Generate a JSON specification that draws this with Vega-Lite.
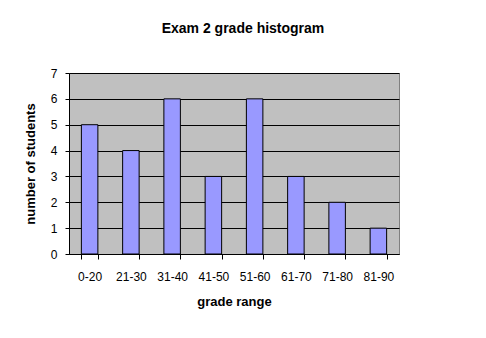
{
  "$schema": "https://vega.github.io/schema/vega-lite/v6.json",
  "width": 330,
  "height": 181,
  "autosize": {"type": "none"},
  "padding": {"left": 69, "top": 73, "right": 87, "bottom": 84},
  "background": "white",
  "title": {
    "text": "Exam 2 grade histogram",
    "font": "Liberation Sans",
    "fontSize": 14,
    "fontWeight": "bold",
    "color": "black",
    "anchor": "middle",
    "offset": 31,
    "dx": 9
  },
  "data": {
    "values": [
      {"range": "0-20", "count": 5},
      {"range": "21-30", "count": 4},
      {"range": "31-40", "count": 6},
      {"range": "41-50", "count": 3},
      {"range": "51-60", "count": 6},
      {"range": "61-70", "count": 3},
      {"range": "71-80", "count": 2},
      {"range": "81-90", "count": 1}
    ]
  },
  "mark": {"type": "bar", "fill": "#9999FF", "stroke": "black", "strokeWidth": 1},
  "encoding": {
    "x": {
      "field": "range",
      "type": "nominal",
      "sort": null,
      "scale": {"paddingInner": 0.6, "paddingOuter": 0.3},
      "axis": {
        "title": "grade range",
        "labelAngle": 0,
        "tickBand": "extent",
        "tickSize": 5,
        "labelPadding": 12,
        "titlePadding": 13,
        "grid": false
      }
    },
    "y": {
      "field": "count",
      "type": "quantitative",
      "scale": {"domain": [0, 7], "nice": false},
      "axis": {
        "title": "number of students",
        "values": [0, 1, 2, 3, 4, 5, 6, 7],
        "tickSize": 4,
        "labelPadding": 8,
        "titlePadding": 13,
        "grid": true
      }
    }
  },
  "config": {
    "view": {"fill": "#C0C0C0", "stroke": "#808080", "strokeWidth": 1},
    "axis": {
      "labelFont": "Liberation Sans",
      "labelFontSize": 12,
      "labelColor": "black",
      "titleFont": "Liberation Sans",
      "titleFontSize": 13,
      "titleFontWeight": "bold",
      "titleColor": "black",
      "domainColor": "black",
      "tickColor": "black",
      "gridColor": "black",
      "gridOpacity": 1,
      "domainWidth": 1,
      "tickWidth": 1
    }
  }
}
